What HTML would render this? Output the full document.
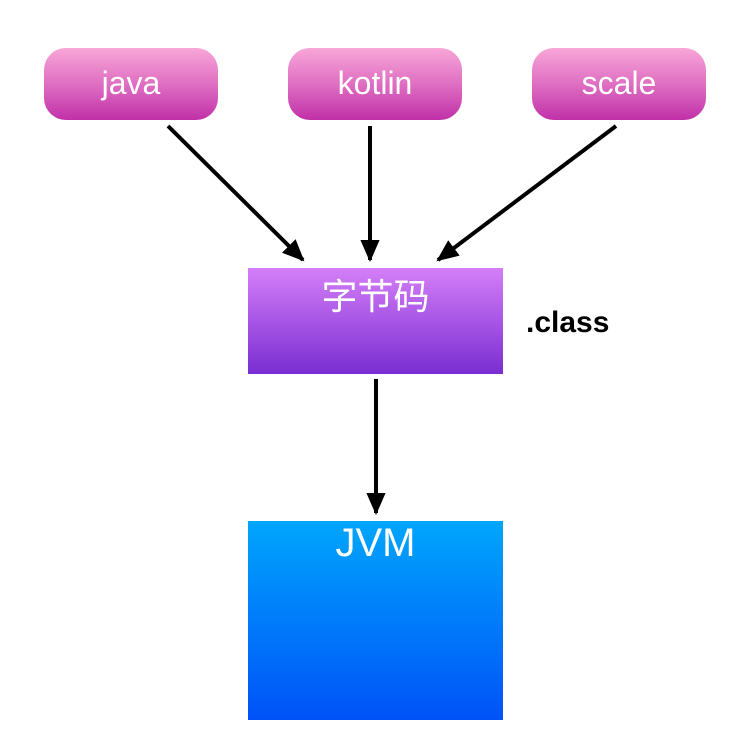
<!DOCTYPE html>
<html><head><meta charset="utf-8"><style>
html,body{margin:0;padding:0;background:#fff;width:748px;height:744px;overflow:hidden}
.p{position:absolute;top:48px;width:174px;height:72px;border-radius:22px;background:linear-gradient(#f8a6d8,#df6fc2 50%,#c030a8);color:#fff;font:32px "Liberation Sans",sans-serif;text-align:center;line-height:70px}
.b{position:absolute;left:248px;width:255px;color:#fff;text-align:center}
</style></head><body>
<div class="p" style="left:44px">java</div>
<div class="p" style="left:288px">kotlin</div>
<div class="p" style="left:532px">scale</div>
<div class="b" style="top:268px;height:106px;line-height:106px;background:linear-gradient(#d47ef8,#7a2ed2);font:36px 'Liberation Sans','Noto Sans CJK SC',sans-serif">字节码</div>
<div style="position:absolute;left:526px;top:306px;font:bold 30px 'Liberation Sans',sans-serif;color:#000">.class</div>
<div class="b" style="top:521px;height:199px;line-height:199px;background:linear-gradient(#00a6fc,#0052f8);font:40px 'Liberation Sans',sans-serif">JVM</div>
<svg width="748" height="744" style="position:absolute;left:0;top:0">
<defs><marker id="a" markerWidth="6" markerHeight="6" refX="5" refY="3" orient="auto" markerUnits="strokeWidth"><path d="M0,0.6 L5.5,3 L0,5.4z" fill="#000"/></marker></defs>
<g stroke="#000" stroke-width="4" marker-end="url(#a)">
<line x1="168" y1="126" x2="303" y2="260"/>
<line x1="370" y1="126" x2="370" y2="260"/>
<line x1="616" y1="126" x2="438" y2="260"/>
<line x1="376" y1="379" x2="376" y2="513"/>
</g></svg>
</body></html>
